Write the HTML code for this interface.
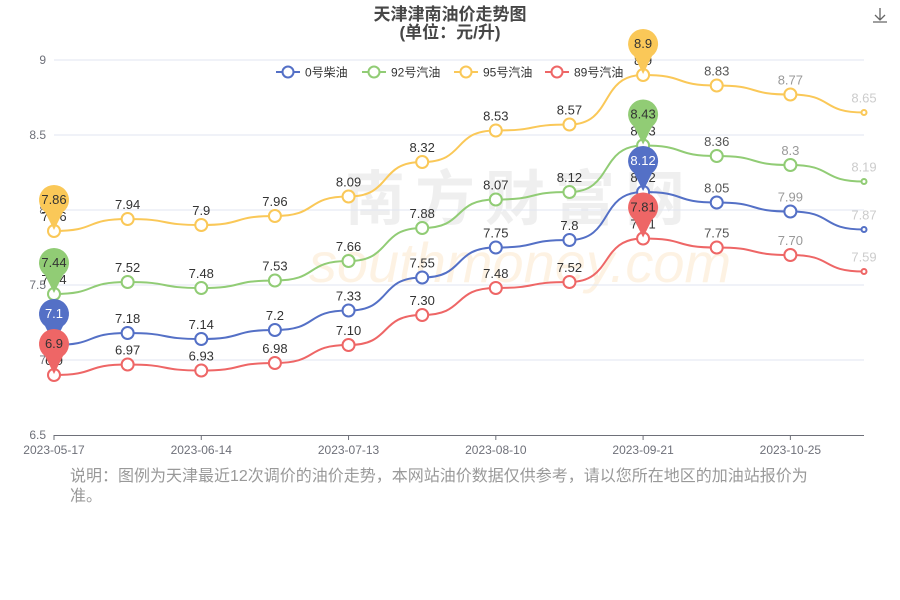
<!DOCTYPE html>
<html><head><meta charset="utf-8"><style>
body{margin:0;background:#fff;width:900px;height:600px;overflow:hidden;font-family:"Liberation Sans","Noto Sans CJK SC",sans-serif}
.note{position:absolute;left:70px;top:467px;width:750px;font-size:16px;line-height:20px;color:#999}
</style></head><body>
<svg id="c" width="900" height="600" style="position:absolute;left:0;top:0" font-family="Liberation Sans, Noto Sans CJK SC, sans-serif"></svg>
<div class="note">说明：图例为天津最近12次调价的油价走势，本网站油价数据仅供参考，请以您所在地区的加油站报价为准。</div>
<script>
var s=document.getElementById('c'),h='';
function Y(v){return 60+(9-v)*150}
var X=[];for(var i=0;i<12;i++)X.push(54+i*(810/11));
h+='<text x="450" y="20" text-anchor="middle" font-size="17" font-weight="bold" fill="#464646">天津津南油价走势图</text>';
h+='<text x="450" y="38" text-anchor="middle" font-size="17" font-weight="bold" fill="#464646">(单位：元/升)</text>';
h+='<path d="M880 8v12M875 15l5 5 5-5M873 22h14" stroke="#666" fill="none" stroke-width="1.3"/>';
h+='<text x="520" y="220" text-anchor="middle" font-size="60" font-weight="bold" fill="#ddd" opacity="0.45" letter-spacing="10">南方财富网</text>';
h+='<text x="520" y="282" text-anchor="middle" font-size="56" font-style="italic" fill="#fde6c8" opacity="0.5">southmoney.com</text>';
[9,8.5,8,7.5,7].forEach(function(v){h+='<line x1="54" x2="864" y1="'+Y(v)+'" y2="'+Y(v)+'" stroke="#e0e6f1"/>'});
[[9,'9'],[8.5,'8.5'],[8,'8'],[7.5,'7.5'],[7,'7'],[6.5,'6.5']].forEach(function(a){h+='<text x="46" y="'+(Y(a[0])+4)+'" text-anchor="end" font-size="12" fill="#6e7079">'+a[1]+'</text>'});
h+='<line x1="54" x2="864" y1="435.5" y2="435.5" stroke="#6e7079"/>';
var dl=['2023-05-17','2023-06-14','2023-07-13','2023-08-10','2023-09-21','2023-10-25'];
dl.forEach(function(d,k){var x=X[k*2];h+='<line x1="'+x+'" x2="'+x+'" y1="435" y2="440" stroke="#6e7079"/><text x="'+x+'" y="454" text-anchor="middle" font-size="12" fill="#6e7079">'+d+'</text>'});
var S=[
['0号柴油','#5470c6',[7.1,7.18,7.14,7.2,7.33,7.55,7.75,7.8,8.12,8.05,7.99,7.87],'#fff'],
['92号汽油','#91cc75',[7.44,7.52,7.48,7.53,7.66,7.88,8.07,8.12,8.43,8.36,8.3,8.19],'#333'],
['95号汽油','#fac858',[7.86,7.94,7.9,7.96,8.09,8.32,8.53,8.57,8.9,8.83,8.77,8.65],'#333'],
['89号汽油','#ee6666',[6.9,6.97,6.93,6.98,7.10,7.30,7.48,7.52,7.81,7.75,7.70,7.59],'#333']];
var lbl=[['7.1','7.18','7.14','7.2','7.33','7.55','7.75','7.8','8.12','8.05','7.99','7.87'],
['7.44','7.52','7.48','7.53','7.66','7.88','8.07','8.12','8.43','8.36','8.3','8.19'],
['7.86','7.94','7.9','7.96','8.09','8.32','8.53','8.57','8.9','8.83','8.77','8.65'],
['6.9','6.97','6.93','6.98','7.10','7.30','7.48','7.52','7.81','7.75','7.70','7.59']];
var pins='';
S.forEach(function(o,si){var d=o[2],c=o[1],p='M'+X[0]+' '+Y(d[0]);
for(var i=1;i<12;i++){var dx=X[i]-X[i-1];p+=' C'+(X[i-1]+dx*0.6)+' '+Y(d[i-1])+' '+(X[i]-dx*0.6)+' '+Y(d[i])+' '+X[i]+' '+Y(d[i]);}
h+='<path d="'+p+'" fill="none" stroke="'+c+'" stroke-width="2"/>';
for(var i=0;i<12;i++){var r=i==11?2.5:6;h+='<circle cx="'+X[i]+'" cy="'+Y(d[i])+'" r="'+r+'" fill="#fff" stroke="'+c+'" stroke-width="2"/>';
var col=i>=10?(i==11?'#ccc':'#999'):'#333';
if(i==9)col='#555';
h+='<text x="'+X[i]+'" y="'+(Y(d[i])-10)+'" text-anchor="middle" font-size="13" fill="'+col+'">'+lbl[si][i]+'</text>';}
[0,8].forEach(function(i){var x=X[i],y=Y(d[i]);
pins+='<path d="M'+x+' '+(y-1)+' L'+(x-9)+' '+(y-19)+' A15 15 0 1 1 '+(x+9)+' '+(y-19)+' Z" fill="'+c+'"/>';
pins+='<text x="'+x+'" y="'+(y-27)+'" text-anchor="middle" font-size="13" fill="'+o[3]+'">'+lbl[si][i]+'</text>';});
});
h+=pins;
var lx=[276,362,454,545];
S.forEach(function(o,i){var x=lx[i];h+='<line x1="'+x+'" x2="'+(x+24)+'" y1="72" y2="72" stroke="'+o[1]+'" stroke-width="2"/><circle cx="'+(x+12)+'" cy="72" r="5.5" fill="#fff" stroke="'+o[1]+'" stroke-width="2"/><text x="'+(x+29)+'" y="76.5" font-size="12" fill="#333">'+o[0]+'</text>'});
s.innerHTML=h;
</script>
</body></html>
